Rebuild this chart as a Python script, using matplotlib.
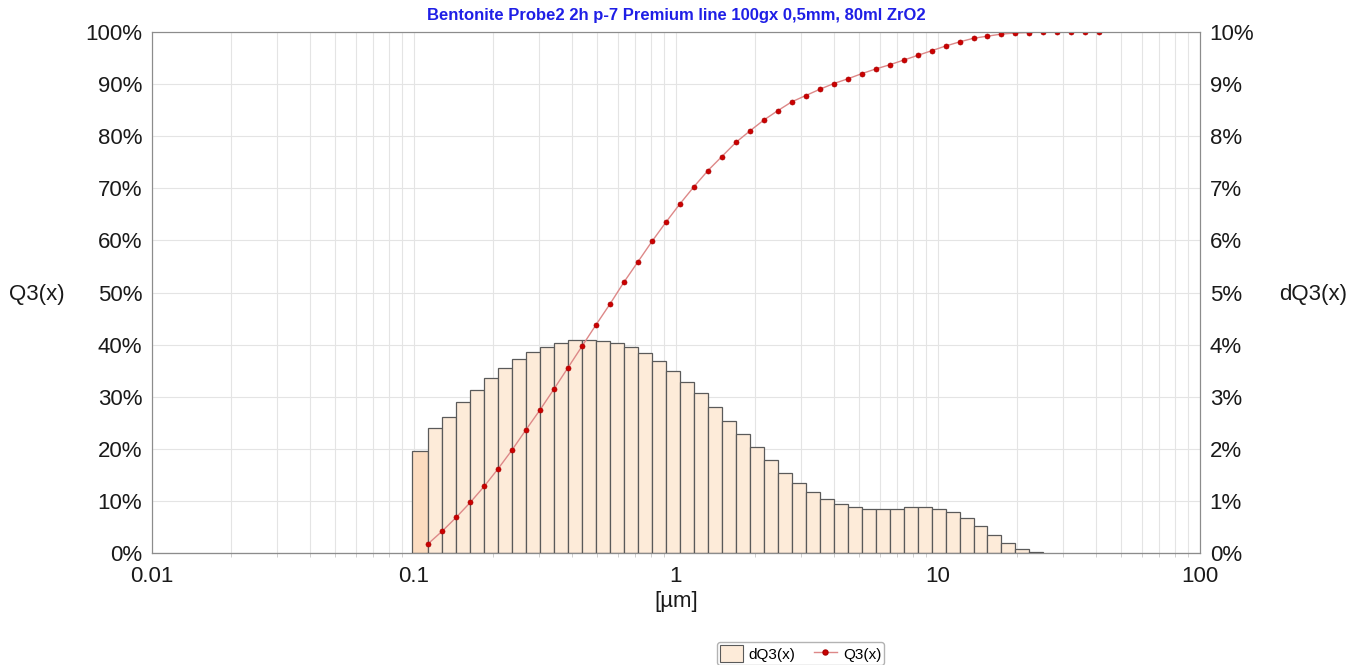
import numpy as np
import matplotlib.pyplot as plt
from matplotlib.ticker import FixedLocator, FixedFormatter, NullFormatter
from matplotlib.patches import Patch
from matplotlib.lines import Line2D

plt.rcParams['font.family'] = ['Liberation Sans', 'DejaVu Sans']

# Klassengrenzen (obere Grenzen) in µm
x_upper = [0.1134, 0.1282, 0.1450, 0.1640, 0.1854, 0.2097, 0.2370, 0.2680, 0.3031,
           0.3426, 0.3875, 0.4381, 0.4953, 0.5601, 0.6333, 0.7161, 0.8097, 0.9157,
           1.035, 1.171, 1.324, 1.497, 1.692, 1.914, 2.164, 2.447, 2.767, 3.129,
           3.538, 4.000, 4.523, 5.114, 5.782, 6.539, 7.393, 8.359, 9.454, 10.69,
           12.09, 13.67, 15.45, 17.47, 19.76, 22.34, 25.26, 28.57, 32.30, 36.52, 41.30]
x_first = 0.0985

# Summenverteilung Q3 in %
q3 = [1.8, 4.2, 6.85, 9.7, 12.8, 16.2, 19.8, 23.7, 27.5, 31.5, 35.6, 39.7, 43.8,
      47.8, 52.0, 55.9, 59.8, 63.5, 67.0, 70.3, 73.4, 76.1, 78.8, 81.0, 83.1, 84.9,
      86.6, 87.8, 89.0, 90.1, 91.0, 92.0, 92.9, 93.7, 94.6, 95.5, 96.4, 97.3, 98.1,
      98.8, 99.2, 99.6, 99.8, 99.9, 100, 100, 100, 100, 100]

# Dichteverteilung dQ3 in % je Klasse
dq3 = [1.96, 2.39, 2.62, 2.90, 3.13, 3.36, 3.55, 3.73, 3.85, 3.96, 4.04, 4.09, 4.08,
       4.07, 4.03, 3.95, 3.83, 3.69, 3.50, 3.29, 3.07, 2.81, 2.53, 2.28, 2.03, 1.78,
       1.54, 1.34, 1.18, 1.04, 0.94, 0.88, 0.85, 0.85, 0.85, 0.88, 0.88, 0.85, 0.78,
       0.67, 0.51, 0.35, 0.19, 0.07, 0.013]

title = 'Bentonite Probe2 2h p-7 Premium line 100gx 0,5mm, 80ml ZrO2'

fig = plt.figure(figsize=(13.59, 6.65), dpi=100)
ax2 = fig.add_axes([0.1118, 0.1684, 0.7712, 0.7835])
ax = ax2.twinx()
ax.set_zorder(ax2.get_zorder() + 1)
ax.patch.set_visible(False)

n = len(dq3)
lefts = np.array([x_first] + x_upper[:n - 1])
rights = np.array(x_upper[:n])
colors = ['#fcdcc0'] + ['#fdebd9'] * (n - 1)
ax2.bar(lefts, dq3, width=rights - lefts, align='edge', color=colors,
        edgecolor='#5a5a5a', linewidth=0.9, zorder=2)

ax.plot(x_upper, q3, color='#dd8888', linewidth=1.0, marker='o', markersize=3.6,
        markerfacecolor='#cc0000', markeredgecolor='#aa0000', markeredgewidth=0.5)

ax2.set_xscale('log')
ax2.set_xlim(0.01, 100)
ax2.set_ylim(0, 10)
ax.set_ylim(0, 100)

ax2.xaxis.set_major_locator(FixedLocator([0.01, 0.1, 1, 10, 100]))
ax2.xaxis.set_major_formatter(FixedFormatter(['0.01', '0.1', '1', '10', '100']))
ax2.xaxis.set_minor_formatter(NullFormatter())
ax2.set_yticks(range(0, 11))
ax2.set_yticklabels([f'{i}%' for i in range(0, 11)])
ax.set_yticks(range(0, 101, 10))
ax.set_yticklabels([f'{i}%' for i in range(0, 101, 10)])

# rechte Achse (dQ3) nach rechts, linke (Q3) nach links
ax2.yaxis.tick_right()
ax.yaxis.tick_left()

ax2.grid(True, which='both', axis='x', color='#e4e4e4', linewidth=0.8, zorder=0)
ax2.grid(True, which='major', axis='y', color='#e4e4e4', linewidth=0.8, zorder=0)
ax2.set_axisbelow(True)

for a in (ax, ax2):
    a.tick_params(axis='y', length=0, labelsize=16, colors='#1a1a1a', pad=7)
    for s in a.spines.values():
        s.set_color('#8c8c8c')
ax2.spines['bottom'].set_color('#333333')
ax2.tick_params(axis='x', which='major', length=0, labelsize=16, colors='#1a1a1a', pad=9)
ax2.tick_params(axis='x', which='minor', length=3, color='#c8c8c8')

fig.text(37 / 1359, 1 - 295 / 665, 'Q3(x)', fontsize=16, color='#1a1a1a',
         ha='center', va='center')
fig.text(1313 / 1359, 1 - 295 / 665, 'dQ3(x)', fontsize=16, color='#1a1a1a',
         ha='center', va='center')
ax2.set_xlabel('[µm]', fontsize=16, color='#1a1a1a', labelpad=3)

fig.text(0.4974, 0.976, title, color='#1f1fe6', fontsize=12, fontweight='bold',
         ha='center', va='center')

handles = [Patch(facecolor='#fdebd9', edgecolor='#5a5a5a', linewidth=0.8),
           Line2D([], [], color='#dd8888', linewidth=1.0, marker='o', markersize=3.6,
                  markerfacecolor='#cc0000', markeredgecolor='#aa0000')]
fig.legend(handles, ['dQ3(x)', 'Q3(x)'], loc='lower center', bbox_to_anchor=(0.589, 0.0),
           ncol=2, fontsize=11, frameon=True, edgecolor='#a0a0a0', fancybox=True,
           handlelength=1.5, handleheight=1.3, handletextpad=0.4, columnspacing=1.2,
           borderpad=0.2, borderaxespad=0.0)

fig.savefig('out.png', dpi=100)
